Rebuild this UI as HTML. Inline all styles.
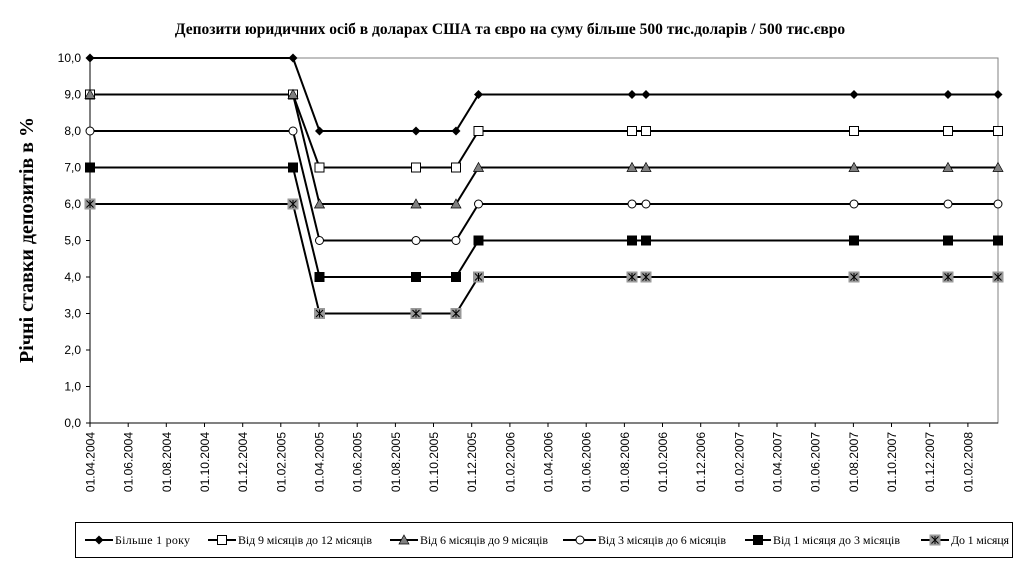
<!DOCTYPE html>
<html><head><meta charset="utf-8"><style>
html,body{margin:0;padding:0;background:#fff;width:1020px;height:563px;overflow:hidden}
svg{display:block}
.t{font-family:"Liberation Sans",sans-serif;font-size:12px;fill:#000}
.s{font-family:"Liberation Serif","DejaVu Serif",serif;font-size:12px;fill:#000}
</style></head><body>
<svg width="1020" height="563" viewBox="0 0 1020 563" xmlns="http://www.w3.org/2000/svg">
<defs>
<symbol id="dia" overflow="visible"><path d="M0,-4.5 L4.5,0 L0,4.5 L-4.5,0Z" fill="#000"/></symbol>
<symbol id="osq" overflow="visible"><rect x="-4.5" y="-4.5" width="9" height="9" fill="#fff" stroke="#000" stroke-width="1"/></symbol>
<symbol id="tri" overflow="visible"><path d="M0,-5 L5,4 L-5,4Z" fill="#808080" stroke="#000" stroke-width="0.7"/></symbol>
<symbol id="cir" overflow="visible"><circle r="4" fill="#fff" stroke="#000" stroke-width="1"/></symbol>
<symbol id="bsq" overflow="visible"><rect x="-5" y="-5" width="10" height="10" fill="#000"/></symbol>
<symbol id="ast" overflow="visible"><rect x="-5.5" y="-5.5" width="11" height="11" fill="#999"/><path d="M-3.5,-3.5L3.5,3.5M-3.5,3.5L3.5,-3.5M0,-4V4" stroke="#000" stroke-width="1"/></symbol>
</defs>
<text x="510" y="34" text-anchor="middle" font-family="Liberation Serif,serif" font-weight="bold" font-size="15.5">Депозити юридичних осіб в доларах США та євро на суму більше 500 тис.доларів / 500 тис.євро</text>
<text transform="translate(33,240) rotate(-90)" text-anchor="middle" font-family="Liberation Serif,serif" font-weight="bold" font-size="20">Річні ставки депозитів в %</text>
<rect x="90" y="58" width="908" height="365" fill="none" stroke="#808080" stroke-width="1"/>
<line x1="90" y1="58" x2="90" y2="423" stroke="#000"/>
<line x1="90" y1="423" x2="998" y2="423" stroke="#000"/>
<g stroke="#000">
<line x1="86" y1="58" x2="90" y2="58"/><line x1="86" y1="94.5" x2="90" y2="94.5"/><line x1="86" y1="131" x2="90" y2="131"/><line x1="86" y1="167.5" x2="90" y2="167.5"/><line x1="86" y1="204" x2="90" y2="204"/><line x1="86" y1="240.5" x2="90" y2="240.5"/><line x1="86" y1="277" x2="90" y2="277"/><line x1="86" y1="313.5" x2="90" y2="313.5"/><line x1="86" y1="350" x2="90" y2="350"/><line x1="86" y1="386.5" x2="90" y2="386.5"/><line x1="86" y1="423" x2="90" y2="423"/>
</g>
<g class="t" text-anchor="end">
<text x="81" y="62">10,0</text><text x="81" y="98.5">9,0</text><text x="81" y="135">8,0</text><text x="81" y="171.5">7,0</text><text x="81" y="208">6,0</text><text x="81" y="244.5">5,0</text><text x="81" y="281">4,0</text><text x="81" y="317.5">3,0</text><text x="81" y="354">2,0</text><text x="81" y="390.5">1,0</text><text x="81" y="427">0,0</text>
</g>
<g stroke="#000">
<line x1="90" y1="423" x2="90" y2="427"/><line x1="128.2" y1="423" x2="128.2" y2="427"/><line x1="166.3" y1="423" x2="166.3" y2="427"/><line x1="204.5" y1="423" x2="204.5" y2="427"/><line x1="242.7" y1="423" x2="242.7" y2="427"/><line x1="280.8" y1="423" x2="280.8" y2="427"/><line x1="319" y1="423" x2="319" y2="427"/><line x1="357.2" y1="423" x2="357.2" y2="427"/><line x1="395.4" y1="423" x2="395.4" y2="427"/><line x1="433.5" y1="423" x2="433.5" y2="427"/><line x1="471.7" y1="423" x2="471.7" y2="427"/><line x1="509.9" y1="423" x2="509.9" y2="427"/><line x1="548" y1="423" x2="548" y2="427"/><line x1="586.2" y1="423" x2="586.2" y2="427"/><line x1="624.4" y1="423" x2="624.4" y2="427"/><line x1="662.5" y1="423" x2="662.5" y2="427"/><line x1="700.7" y1="423" x2="700.7" y2="427"/><line x1="738.9" y1="423" x2="738.9" y2="427"/><line x1="777" y1="423" x2="777" y2="427"/><line x1="815.2" y1="423" x2="815.2" y2="427"/><line x1="853.4" y1="423" x2="853.4" y2="427"/><line x1="891.5" y1="423" x2="891.5" y2="427"/><line x1="929.7" y1="423" x2="929.7" y2="427"/><line x1="967.9" y1="423" x2="967.9" y2="427"/>
</g>
<g class="t" text-anchor="end">
<text transform="translate(94.5,432) rotate(-90)">01.04.2004</text>
<text transform="translate(132.7,432) rotate(-90)">01.06.2004</text>
<text transform="translate(170.8,432) rotate(-90)">01.08.2004</text>
<text transform="translate(209,432) rotate(-90)">01.10.2004</text>
<text transform="translate(247.2,432) rotate(-90)">01.12.2004</text>
<text transform="translate(285.3,432) rotate(-90)">01.02.2005</text>
<text transform="translate(323.5,432) rotate(-90)">01.04.2005</text>
<text transform="translate(361.7,432) rotate(-90)">01.06.2005</text>
<text transform="translate(399.9,432) rotate(-90)">01.08.2005</text>
<text transform="translate(438,432) rotate(-90)">01.10.2005</text>
<text transform="translate(476.2,432) rotate(-90)">01.12.2005</text>
<text transform="translate(514.4,432) rotate(-90)">01.02.2006</text>
<text transform="translate(552.5,432) rotate(-90)">01.04.2006</text>
<text transform="translate(590.7,432) rotate(-90)">01.06.2006</text>
<text transform="translate(628.9,432) rotate(-90)">01.08.2006</text>
<text transform="translate(667,432) rotate(-90)">01.10.2006</text>
<text transform="translate(705.2,432) rotate(-90)">01.12.2006</text>
<text transform="translate(743.4,432) rotate(-90)">01.02.2007</text>
<text transform="translate(781.5,432) rotate(-90)">01.04.2007</text>
<text transform="translate(819.7,432) rotate(-90)">01.06.2007</text>
<text transform="translate(857.9,432) rotate(-90)">01.08.2007</text>
<text transform="translate(896,432) rotate(-90)">01.10.2007</text>
<text transform="translate(934.2,432) rotate(-90)">01.12.2007</text>
<text transform="translate(972.4,432) rotate(-90)">01.02.2008</text>
</g>
<g fill="none" stroke="#000" stroke-width="2">
<polyline points="90,58 293,58 319.5,131 416,131 456,131 478.5,94.5 632,94.5 646,94.5 854,94.5 948,94.5 998,94.5"/>
<polyline points="90,94.5 293,94.5 319.5,167.5 416,167.5 456,167.5 478.5,131 632,131 646,131 854,131 948,131 998,131"/>
<polyline points="90,94.5 293,94.5 319.5,204 416,204 456,204 478.5,167.5 632,167.5 646,167.5 854,167.5 948,167.5 998,167.5"/>
<polyline points="90,131 293,131 319.5,240.5 416,240.5 456,240.5 478.5,204 632,204 646,204 854,204 948,204 998,204"/>
<polyline points="90,167.5 293,167.5 319.5,277 416,277 456,277 478.5,240.5 632,240.5 646,240.5 854,240.5 948,240.5 998,240.5"/>
<polyline points="90,204 293,204 319.5,313.5 416,313.5 456,313.5 478.5,277 632,277 646,277 854,277 948,277 998,277"/>
</g>
<g>
<use href="#dia" x="90" y="58"/><use href="#dia" x="293" y="58"/><use href="#dia" x="319.5" y="131"/><use href="#dia" x="416" y="131"/><use href="#dia" x="456" y="131"/><use href="#dia" x="478.5" y="94.5"/><use href="#dia" x="632" y="94.5"/><use href="#dia" x="646" y="94.5"/><use href="#dia" x="854" y="94.5"/><use href="#dia" x="948" y="94.5"/><use href="#dia" x="998" y="94.5"/>
<use href="#osq" x="90" y="94.5"/><use href="#osq" x="293" y="94.5"/><use href="#osq" x="319.5" y="167.5"/><use href="#osq" x="416" y="167.5"/><use href="#osq" x="456" y="167.5"/><use href="#osq" x="478.5" y="131"/><use href="#osq" x="632" y="131"/><use href="#osq" x="646" y="131"/><use href="#osq" x="854" y="131"/><use href="#osq" x="948" y="131"/><use href="#osq" x="998" y="131"/>
<use href="#tri" x="90" y="94.5"/><use href="#tri" x="293" y="94.5"/><use href="#tri" x="319.5" y="204"/><use href="#tri" x="416" y="204"/><use href="#tri" x="456" y="204"/><use href="#tri" x="478.5" y="167.5"/><use href="#tri" x="632" y="167.5"/><use href="#tri" x="646" y="167.5"/><use href="#tri" x="854" y="167.5"/><use href="#tri" x="948" y="167.5"/><use href="#tri" x="998" y="167.5"/>
<use href="#cir" x="90" y="131"/><use href="#cir" x="293" y="131"/><use href="#cir" x="319.5" y="240.5"/><use href="#cir" x="416" y="240.5"/><use href="#cir" x="456" y="240.5"/><use href="#cir" x="478.5" y="204"/><use href="#cir" x="632" y="204"/><use href="#cir" x="646" y="204"/><use href="#cir" x="854" y="204"/><use href="#cir" x="948" y="204"/><use href="#cir" x="998" y="204"/>
<use href="#bsq" x="90" y="167.5"/><use href="#bsq" x="293" y="167.5"/><use href="#bsq" x="319.5" y="277"/><use href="#bsq" x="416" y="277"/><use href="#bsq" x="456" y="277"/><use href="#bsq" x="478.5" y="240.5"/><use href="#bsq" x="632" y="240.5"/><use href="#bsq" x="646" y="240.5"/><use href="#bsq" x="854" y="240.5"/><use href="#bsq" x="948" y="240.5"/><use href="#bsq" x="998" y="240.5"/>
<use href="#ast" x="90" y="204"/><use href="#ast" x="293" y="204"/><use href="#ast" x="319.5" y="313.5"/><use href="#ast" x="416" y="313.5"/><use href="#ast" x="456" y="313.5"/><use href="#ast" x="478.5" y="277"/><use href="#ast" x="632" y="277"/><use href="#ast" x="646" y="277"/><use href="#ast" x="854" y="277"/><use href="#ast" x="948" y="277"/><use href="#ast" x="998" y="277"/>
</g>
<rect x="75.5" y="522.5" width="937" height="35" fill="#fff" stroke="#000" stroke-width="1"/>
<g stroke="#000" stroke-width="2">
<line x1="85" y1="540" x2="113" y2="540"/>
<line x1="208" y1="540" x2="236" y2="540"/>
<line x1="390" y1="540" x2="418" y2="540"/>
<line x1="563" y1="540" x2="596" y2="540"/>
<line x1="745" y1="540" x2="771" y2="540"/>
<line x1="921" y1="540" x2="949" y2="540"/>
</g>
<use href="#dia" x="99" y="540"/><use href="#osq" x="222" y="540"/><use href="#tri" x="404" y="540"/><use href="#cir" x="580" y="540"/><use href="#bsq" x="758" y="540"/><use href="#ast" x="935" y="540"/>
<g class="s">
<text x="115" y="544" textLength="75">Більше 1 року</text>
<text x="238" y="544" textLength="134">Від 9 місяців до 12 місяців</text>
<text x="420" y="544" textLength="128">Від 6 місяців до 9 місяців</text>
<text x="598" y="544" textLength="128">Від 3 місяців до 6 місяців</text>
<text x="773" y="544" textLength="127">Від 1 місяця до 3 місяців</text>
<text x="951" y="544" textLength="58">До 1 місяця</text>
</g>
</svg>
</body></html>
